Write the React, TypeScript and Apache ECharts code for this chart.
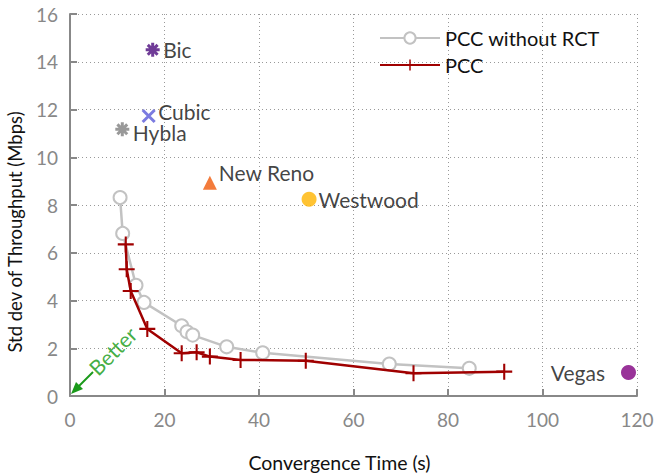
import React, { useEffect, useRef } from "react";
import * as echarts from "echarts";

const pccNoRctX = [10.6, 11.15, 13.97, 15.66, 23.64, 24.76, 25.97, 33.16, 40.78, 67.58, 84.5];
const pccNoRctY = [8.31, 6.81, 4.64, 3.92, 2.94, 2.69, 2.55, 2.06, 1.81, 1.34, 1.16];
const pccX = [11.8, 12.0, 12.85, 16.36, 23.64, 26.8, 29.6, 36.1, 49.9, 72.7, 91.9];
const pccY = [6.35, 5.31, 4.4, 2.81, 1.79, 1.83, 1.65, 1.51, 1.48, 0.95, 1.02];

const protoNames = ["Bic", "Cubic", "Hybla", "New Reno", "Westwood", "Vegas"];
const protoX = [17.5, 16.65, 11.07, 29.6, 50.6, 118.2];
const protoY = [14.5, 11.73, 11.17, 8.93, 8.24, 0.98];

const xTicks = [0, 20, 40, 60, 80, 100, 120];
const yTicks = [0, 2, 4, 6, 8, 10, 12, 14, 16];

// position of the "Better" annotation text (data coords)
const betterAt = [9.0, 1.9];

const FONT = "Lato, 'Open Sans', sans-serif";
const PLUS = "path://M-1.3,-10 h2.6 v8.7 h8.7 v2.6 h-8.7 v8.7 h-2.6 v-8.7 h-8.7 v-2.6 h8.7 z";
const STAR = "path://M0,-1L0,1M-1,0L1,0M-0.7,-0.7L0.7,0.7M-0.7,0.7L0.7,-0.7";
const XMARK = "path://M-1,-1L1,1M-1,1L1,-1";

const protoStyle: any[] = [
  { symbol: STAR, size: 14, color: "#4b0a7d", stroke: true, pos: "right" },
  { symbol: XMARK, size: 12, color: "#5a5ad8", stroke: true, pos: "right", offset: [0, -4] },
  { symbol: STAR, size: 14, color: "#808080", stroke: true, pos: "right", offset: [0, 3] },
  { symbol: "triangle", size: 14, color: "#f05a0a", stroke: false, pos: "right", offset: [0, -10] },
  { symbol: "circle", size: 15, color: "#ffb400", stroke: false, pos: "right" },
  { symbol: "circle", size: 15, color: "#800080", stroke: false, pos: "left", dist: 16 },
];

export default function App() {
  const ref = useRef<HTMLDivElement>(null);
  useEffect(() => {
    if (!ref.current) return;
    const chart = echarts.init(ref.current, null, { renderer: "svg" });
    const protoSeries = protoNames.map((name, i) => {
      const s = protoStyle[i];
      return {
        name,
        type: "scatter",
        symbol: s.symbol,
        symbolSize: s.size,
        itemStyle: s.stroke
          ? { color: s.color, borderColor: s.color, borderWidth: 3 }
          : { color: s.color },
        label: {
          show: true,
          formatter: name,
          position: s.pos,
          distance: s.dist ?? 2,
          offset: s.offset ?? [0, 0],
          color: "#111",
          fontSize: 21,
          lineHeight: 16,
          fontFamily: FONT,
        },
        data: [[protoX[i], protoY[i]]],
        z: 3,
      };
    });
    chart.setOption({
      animation: false,
      backgroundColor: "#fff",
      textStyle: { fontFamily: FONT },
      grid: { left: 70, right: 21, top: 14, bottom: 78, outerBoundsMode: "none", containLabel: false },
      legend: {
        data: ["PCC without RCT", "PCC"],
        orient: "vertical",
        left: 374,
        top: 23,
        itemWidth: 60,
        itemHeight: 14,
        itemGap: 7,
        textStyle: { fontSize: 20, color: "#111", fontFamily: FONT },
      },
      xAxis: {
        type: "value",
        min: 0,
        max: 120,
        interval: 20,
        name: "Convergence Time (s)",
        nameLocation: "middle",
        nameGap: 56,
        nameTextStyle: { fontSize: 19.5, color: "#111", fontFamily: FONT, padding: [0, 28, 0, 0] },
        axisLine: { lineStyle: { color: "#888", width: 2 } },
        axisTick: { inside: true, length: 7, lineStyle: { color: "#888", width: 2 } },
        axisLabel: { fontSize: 19, color: "#888", margin: 14, fontFamily: FONT },
        splitLine: { show: true, lineStyle: { color: "#999", type: [1, 3], width: 1 } },
      },
      yAxis: {
        type: "value",
        min: 0,
        max: 16,
        interval: 2,
        name: "Std dev of Throughput (Mbps)",
        nameLocation: "middle",
        nameGap: 46,
        nameTextStyle: { fontSize: 18.5, color: "#111", fontFamily: FONT, padding: [0, 54, 0, 0] },
        axisLine: { show: true, lineStyle: { color: "#888", width: 2 } },
        axisTick: { show: true, inside: true, length: 7, lineStyle: { color: "#888", width: 2 } },
        axisLabel: { fontSize: 19, color: "#888", margin: 12, fontFamily: FONT },
        splitLine: { show: true, lineStyle: { color: "#999", type: [1, 3], width: 1 } },
      },
      graphic: [
        {
          type: "group",
          z: 10,
          children: [
            {
              type: "line",
              shape: { x1: 93, y1: 372, x2: 78, y2: 387 },
              style: { stroke: "#1a9a1a", lineWidth: 2 },
            },
            {
              type: "polygon",
              shape: { points: [[71, 394], [83, 389], [76, 382]] },
              style: { fill: "#1a9a1a" },
            },
          ],
        },
      ],
      series: [
        {
          name: "PCC without RCT",
          type: "line",
          symbol: "emptyCircle",
          symbolSize: 13,
          lineStyle: { color: "#c2c2c2", width: 2.5 },
          itemStyle: { color: "#c2c2c2", borderWidth: 2.5, borderColor: "#c2c2c2" },
          data: pccNoRctX.map((x, i) => [x, pccNoRctY[i]]),
          z: 2,
        },
        {
          name: "PCC",
          type: "line",
          symbol: PLUS,
          symbolSize: 16,
          lineStyle: { color: "#a00000", width: 2.5 },
          itemStyle: { color: "#a00000" },
          data: pccX.map((x, i) => [x, pccY[i]]),
          z: 3,
        },
        ...protoSeries,
        {
          name: "Better",
          type: "scatter",
          symbol: "circle",
          symbolSize: 1,
          silent: true,
          itemStyle: { color: "rgba(0,0,0,0)" },
          label: {
            show: true,
            formatter: "Better",
            position: "inside",
            rotate: 45,
            color: "#119911",
            fontSize: 21,
            fontFamily: FONT,
          },
          data: [betterAt],
          z: 4,
        },
      ],
    });
    return () => chart.dispose();
  }, []);
  return (
    <div
      ref={ref}
      style={{ position: "fixed", left: 0, top: 0, width: 658, height: 474 }}
    />
  );
}
